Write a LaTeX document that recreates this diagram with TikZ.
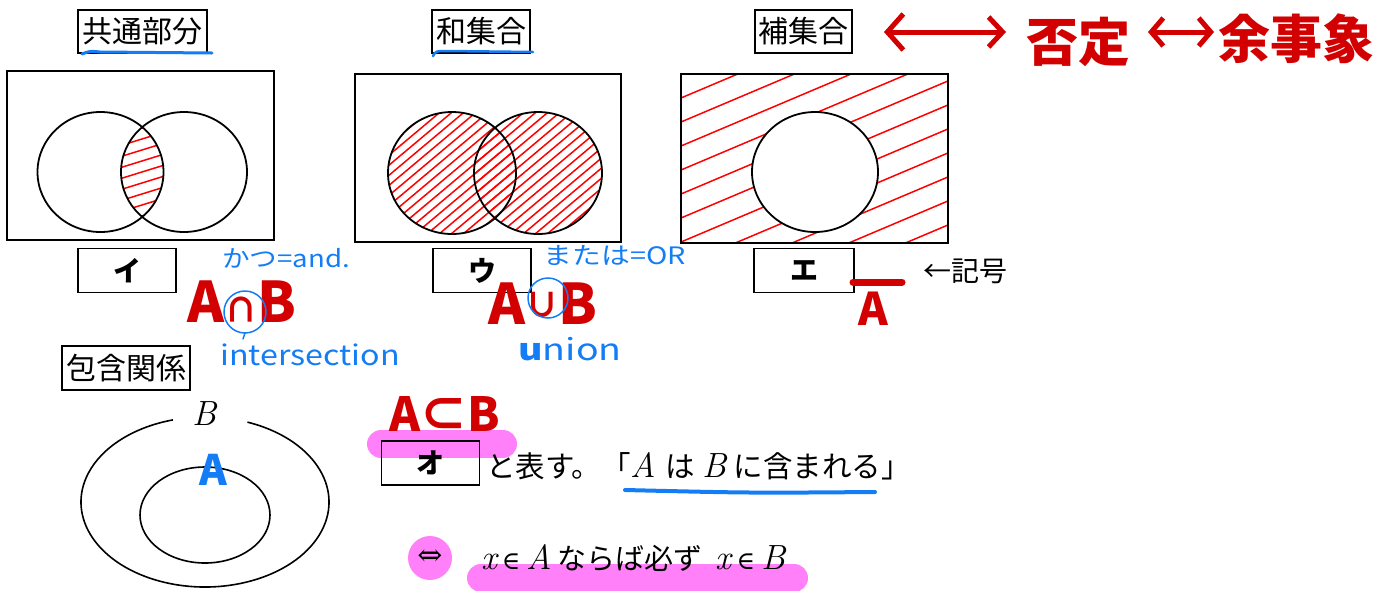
\documentclass[tikz,border=0pt]{standalone}
\usepackage{fontspec}
\newfontfamily\jp{Noto Sans CJK JP}
\newfontfamily\sym{DejaVu Serif}
\usetikzlibrary{arrows.meta}
\definecolor{hred}{RGB}{210,0,0}
\definecolor{hatchred}{RGB}{255,0,0}
\definecolor{hblue}{RGB}{20,125,245}
\definecolor{hpink}{RGB}{255,128,248}
\newcommand{\vA}{{\normalfont\itshape\fontsize{35}{35}\selectfont A}}
\newcommand{\vB}{{\normalfont\itshape\fontsize{35}{35}\selectfont B}}
\newcommand{\vx}{{\normalfont\itshape\fontsize{35}{35}\selectfont x}}
\newcommand{\elem}{{\sym\fontsize{25}{25}\selectfont ∈}}
\tikzset{
  frame/.style={draw, line width=1.8pt},
  hatch/.style={draw=hatchred, line width=1.5pt},
  titlebox/.style={draw, line width=1.8pt, font=\jp\fontsize{30}{32}\selectfont, inner sep=0pt, minimum height=43pt},
  labbox/.style={draw, line width=1.8pt, font=\jp\bfseries\fontsize{28}{30}\selectfont, minimum width=98pt, minimum height=44pt, inner sep=0pt},
  note/.style={text=hblue, font=\jp\fontsize{24}{26}\selectfont, inner sep=0pt},
  hand/.style={text=hred, font=\jp\bfseries\fontsize{56}{58}\selectfont, inner sep=0pt},
  hl/.style={draw=hpink, line width=28pt, line cap=round},
  bline/.style={draw=hblue, line cap=round},
  redarrow/.style={draw=hred, line width=5pt, line cap=round, line join=round},
}
\begin{document}
\begin{tikzpicture}[x=1pt, y=-1pt]
\useasboundingbox (0,0) rectangle (1389,590);

% ---------- titles ----------
\node[titlebox, minimum width=129pt] (t1) at (142.5,31.5) {共通部分};
\node[titlebox, minimum width=98pt] (t2) at (481,31.5) {和集合};
\node[titlebox, minimum width=97pt] (t3) at (803.5,31.5) {補集合};
\draw[bline, line width=3pt] (82,54) .. controls (90,51) .. (100,52) -- (212,53);
\draw[bline, line width=2.5pt] (433,56) .. controls (436,51) .. (446,51) -- (533,52);

% ---------- panel 1 : intersection ----------
\begin{scope}
  \clip (100.5,172) ellipse [x radius=63, y radius=60];
  \clip (184,172) ellipse [x radius=63, y radius=60];
  \foreach \k in {0,...,15} \draw[hatch] (100,108+11*\k) -- ++(200,-62);
\end{scope}
\draw[frame] (7,71) rectangle (274,240);
\draw[line width=1.8pt] (100.5,172) ellipse [x radius=63, y radius=60];
\draw[line width=1.8pt] (184,172) ellipse [x radius=63, y radius=60];

% ---------- panel 2 : union ----------
\begin{scope}
  \clip (452,173) ellipse [x radius=64, y radius=61];
  \foreach \x in {216,228,...,610} \draw[hatch] (\x,250) -- ++(200,-168);
\end{scope}
\begin{scope}
  \clip (538,173) ellipse [x radius=64, y radius=61];
  \foreach \x in {216,228,...,610} \draw[hatch] (\x,250) -- ++(200,-168);
\end{scope}
\draw[frame] (355,74) rectangle (621,242);
\draw[line width=1.8pt] (452,173) ellipse [x radius=64, y radius=61];
\draw[line width=1.8pt] (538,173) ellipse [x radius=64, y radius=61];

% ---------- panel 3 : complement ----------
\begin{scope}
  \clip (681,74) rectangle (948,243);
  \foreach \k in {-1,...,11} \draw[hatch] (681,98+24*\k) -- ++(300,-127);
\end{scope}
\fill[white] (815,172) ellipse [x radius=63, y radius=60];
\draw[line width=1.8pt] (815,172) ellipse [x radius=63, y radius=60];
\draw[frame] (681,74) rectangle (948,243);

% ---------- label boxes ----------
\node[labbox] (li) at (127,270.5) {イ};
\node[labbox] (lu) at (482,270.5) {ウ};
\node[labbox, minimum width=100pt] (le) at (804,270.5) {エ};

% ---------- handwritten notes ----------
\node[note] (katsu) at (286,258) {\scalebox{1.15}[1]{かつ=and.}};
\node[note] (matawa) at (615,256) {\scalebox{1.2}[1]{または=OR}};
\node[hand] (aandb) at (242,302) {A\scalebox{0.6}{∩}B};
\draw[bline, line width=1.5pt] (245,312) circle (21);
\draw[bline, line width=1.5pt] (245,333) -- (243,339);
\node[note, font=\jp\fontsize{28}{30}\selectfont] (inter) at (310,355) {\scalebox{1.15}[1]{intersection}};
\node[hand] (aorb) at (543,304) {A\raisebox{7pt}{\scalebox{0.6}{∪}}B};
\draw[bline, line width=1.5pt] (548,298) circle (20);
\node[note, font=\jp\fontsize{30}{32}\selectfont] (union) at (570,349) {\scalebox{1.25}[1]{{\bfseries u}nion}};

\draw[hred, line width=7pt, line cap=round] (853,282) -- (902,282);
\node[hand, font=\jp\bfseries\fontsize{45}{46}\selectfont] (abar) at (873,309) {A};
\node[font=\jp\fontsize{28}{30}\selectfont, inner sep=0pt] (kigo) at (965,271) {←記号};

% top red
\coordinate (a1s) at (884,32);
\coordinate (a1e) at (1006,32);
\draw[redarrow, {Straight Barb[length=16pt,width=36pt,line width=5pt]}-{Straight Barb[length=14pt,width=30pt,line width=5pt]}] (a1s) -- (a1e);
\node[hand, font=\jp\bfseries\fontsize{52}{54}\selectfont] (hitei) at (1078,42) {否定};
\coordinate (a2s) at (1148,32);
\coordinate (a2e) at (1214,32);
\draw[redarrow, {Straight Barb[length=12pt,width=28pt,line width=5pt]}-{Straight Barb[length=12pt,width=28pt,line width=5pt]}] (a2s) -- (a2e);
\node[hand, font=\jp\bfseries\fontsize{52}{54}\selectfont] (yoji) at (1296,39) {余事象};

% ---------- inclusion ----------
\node[titlebox, minimum width=128pt, minimum height=44pt] (t4) at (126,368) {包含関係};
\draw[line width=1.6pt] ([shift={(-70:124 and 85)}]205,502) arc[start angle=-70, end angle=255, x radius=124, y radius=85];
\draw[line width=1.6pt] (205,515) ellipse [x radius=65, y radius=48];
\node[inner sep=0pt] (blab) at (205,414) {\vB};
\node[text=hblue, font=\jp\bfseries\fontsize{42}{44}\selectfont, inner sep=0pt] (bluea) at (213,470) {A};

% ---------- statement ----------
\draw[hl] (381,444) -- (503,444);
\node[hand, font=\jp\bfseries\fontsize{47}{48}\selectfont] (acb) at (445,414) {A⊂B};
\node[labbox] (lo) at (430.5,463) {オ};
\node[anchor=west, font=\jp\fontsize{29.5}{31}\selectfont, inner sep=0pt] (txt) at (486,466) {と表す。「\vA\hspace{9pt}は\hspace{8pt}\vB\hspace{7pt}に含まれる」};
\draw[bline, line width=4pt] (625,490) .. controls (750,493) .. (875,492);

\fill[hpink] (430,558) circle (22);
\node[font=\sym\fontsize{30}{30}\selectfont, inner sep=0pt] (iff) at (430,558) {⇔};
\draw[hl] (481,578) -- (794,578);
\node[anchor=west, font=\jp\fontsize{29}{31}\selectfont, inner sep=0pt] (cond) at (481,558) {\vx\hspace{5pt}\elem\hspace{6pt}\vA\hspace{6pt}ならば必ず\hspace{13pt}\vx\hspace{5pt}\elem\hspace{6pt}\vB};
\end{tikzpicture}
\end{document}
